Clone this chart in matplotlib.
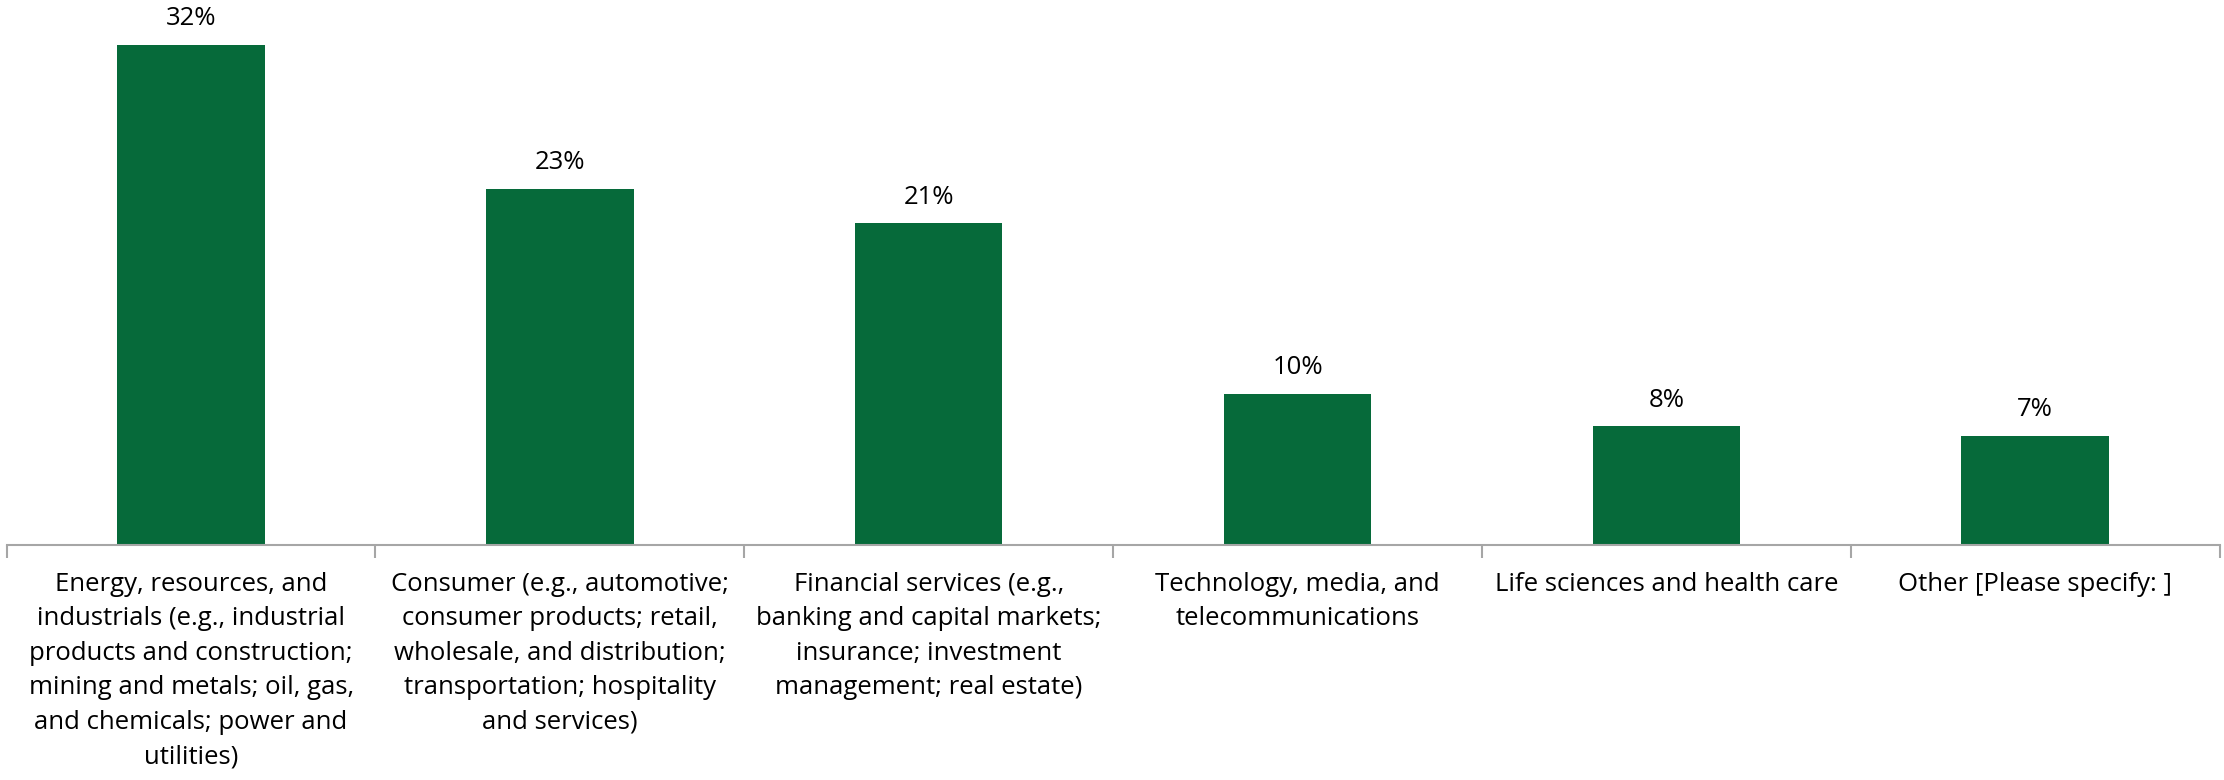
import matplotlib
matplotlib.use("Agg")
import matplotlib.pyplot as plt
import numpy as np

plt.rcParams['font.family'] = ['Open Sans', 'DejaVu Sans']

categories = [
    "Energy, resources, and\nindustrials (e.g., industrial\nproducts and construction;\nmining and metals; oil, gas,\nand chemicals; power and\nutilities)",
    "Consumer (e.g., automotive;\nconsumer products; retail,\nwholesale, and distribution;\ntransportation; hospitality\nand services)",
    "Financial services (e.g.,\nbanking and capital markets;\ninsurance; investment\nmanagement; real estate)",
    "Technology, media, and\ntelecommunications",
    "Life sciences and health care",
    "Other [Please specify: ]",
]
values = [32.0, 22.8, 20.6, 9.7, 7.6, 7.0]

bar_color = '#066a3a'
axis_color = '#a6a6a6'

fig = plt.figure(figsize=(22.24, 7.8), dpi=100)
ax = fig.add_axes([0.003, 0.301, 0.995, 0.699])

x = np.arange(len(values))
ax.bar(x, values, width=0.4, color=bar_color)
for xi, v in zip(x, values):
    ax.annotate(f"{v:.0f}%", (xi, v), xytext=(0, 10), textcoords='offset points',
                ha='center', va='bottom', fontsize=18.5, color='black')

ax.set_xlim(-0.5, len(values) - 0.5)
ax.set_ylim(0, 34.9)
ax.set_yticks([])
for s in ['top', 'right', 'left']:
    ax.spines[s].set_visible(False)
ax.spines['bottom'].set_color(axis_color)
ax.spines['bottom'].set_linewidth(1.5)

# category boundary ticks
ax.set_xticks(np.arange(-0.5, len(values) + 0.5, 1))
ax.set_xticklabels([])
ax.tick_params(axis='x', which='major', length=9, width=1.5, color=axis_color, direction='out')
ax.set_xticks(x, minor=True)
ax.set_xticklabels(categories, minor=True, fontsize=18.5, linespacing=1.5, va='top')
ax.tick_params(axis='x', which='minor', length=0, pad=19)

fig.savefig('out.png', dpi=100)
